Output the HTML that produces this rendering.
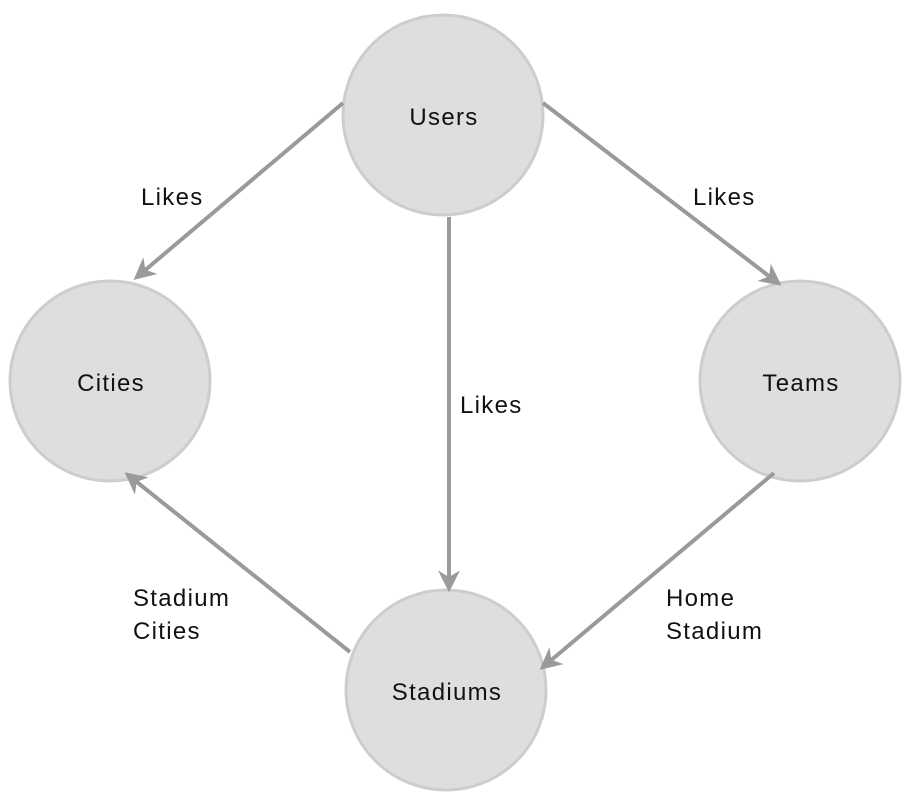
<!DOCTYPE html>
<html><head><style>
html,body{margin:0;padding:0;background:#fff;}
svg{display:block;}
text{font-family:"Liberation Sans",sans-serif;font-size:24px;letter-spacing:1.3px;fill:#111;}
</style></head><body>
<svg width="908" height="808" viewBox="0 0 908 808" xmlns="http://www.w3.org/2000/svg">
<defs>
<marker id="a" viewBox="0 0 10 10" refX="8" refY="5" markerWidth="5.5" markerHeight="5.5" orient="auto" markerUnits="strokeWidth">
<path d="M0,0 L10,5 L0,10 L3,5 z" fill="#9a9a9a"/>
</marker>
</defs>
<g fill="#dedede" stroke="#cdcdcd" stroke-width="3">
<circle cx="443" cy="115" r="100"/>
<circle cx="110" cy="381" r="100"/>
<circle cx="800" cy="381" r="100"/>
<circle cx="446" cy="690" r="100"/>
</g>
<g stroke="#9a9a9a" stroke-width="4" fill="none" marker-end="url(#a)">
<line x1="343" y1="103" x2="137" y2="277"/>
<line x1="543" y1="103" x2="778" y2="283"/>
<line x1="449" y1="217" x2="449" y2="588"/>
<line x1="774" y1="473" x2="543" y2="667"/>
<line x1="350" y1="652" x2="128" y2="475"/>
</g>
<text x="444" y="125" text-anchor="middle">Users</text>
<text x="111" y="391" text-anchor="middle">Cities</text>
<text x="801" y="391" text-anchor="middle">Teams</text>
<text x="447" y="700" text-anchor="middle">Stadiums</text>
<text x="141" y="205">Likes</text>
<text x="693" y="205">Likes</text>
<text x="460" y="413">Likes</text>
<text x="133" y="606">Stadium</text>
<text x="133" y="639">Cities</text>
<text x="666" y="606">Home</text>
<text x="666" y="639">Stadium</text>
</svg>
</body></html>
